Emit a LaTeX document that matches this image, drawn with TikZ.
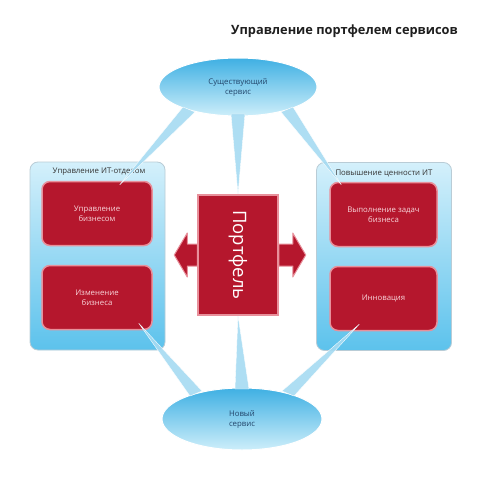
\documentclass[tikz,border=0pt]{standalone}
\usepackage{fontspec}
\setmainfont{Open Sans}
\usetikzlibrary{shapes.geometric,calc}
\definecolor{pnlTop}{HTML}{D4F0FB}
\definecolor{pnlBot}{HTML}{5CC2EC}
\definecolor{pnlEdge}{HTML}{B9CCD6}
\definecolor{redFill}{HTML}{B5172D}
\definecolor{redEdge}{HTML}{E8909B}
\definecolor{ellTop}{HTML}{3FB0E3}
\definecolor{ellBot}{HTML}{CDEEFA}
\definecolor{beamCol}{HTML}{A6DBF2}
\definecolor{ellText}{HTML}{23466B}
\definecolor{boxText}{HTML}{F8D6DB}
\tikzset{
  panel/.style={draw=pnlEdge, line width=0.8pt, rounded corners=8pt, top color=pnlTop, bottom color=pnlBot, minimum width=135pt, minimum height=188pt, inner sep=0pt},
  redbox/.style={draw=redEdge, line width=1.5pt, rounded corners=8pt, fill=redFill, minimum width=110pt, minimum height=64pt, align=center, text=boxText, font=\fontsize{7.8}{10}\selectfont, inner sep=0pt},
  ellnode/.style={ellipse, draw=white, line width=1pt, top color=ellTop, bottom color=ellBot, minimum width=158pt, minimum height=58pt, align=center, text=ellText, font=\fontsize{7.8}{10}\selectfont, inner sep=0pt},
  pnltitle/.style={text=black!80, font=\fontsize{7.8}{10}\selectfont, inner sep=0pt},
  beam/.style={fill=beamCol, draw=white, line width=0.4pt, opacity=0.9},
  arrowshape/.style={fill=redFill, draw=redEdge, line width=1pt, line join=round},
  portbox/.style={draw=redEdge, line width=1.5pt, fill=redFill, minimum width=80pt, minimum height=120pt, inner sep=0pt},
  porttext/.style={rotate=-90, text=white, font=\fontsize{18.5}{22}\selectfont, inner sep=0pt},
}
\begin{document}
\begin{tikzpicture}[x=1pt,y=-1pt]
\useasboundingbox[fill=white] (0,0) rectangle (480,484);
% title
\node[anchor=east, font=\fontsize{12.8}{15}\selectfont\bfseries, text=black!88, inner sep=0pt] (title) at (458,31) {Управление портфелем сервисов};
% panels
\node[panel] (lp) at (97.5,256) {};
\node[panel] (rp) at (384,256.5) {};
\node[pnltitle] (lpt) at (99,172) {Управление ИТ-отделом};
\node[pnltitle] (rpt) at (384,173) {Повышение ценности ИТ};
% ellipses
\node[ellnode] (top) at (238,87) {Существующий\\сервис};
\node[ellnode, minimum width=160pt, minimum height=62pt] (bot) at (242,419) {Новый\\сервис};
% central box
\node[portbox] (port) at (238,255) {};
% beam end points
\coordinate (tl1) at ($(top.center)+(-55,20)$);
\coordinate (tl2) at ($(top.center)+(-43,25)$);
\coordinate (tm1) at ($(top.center)+(-7,27)$);
\coordinate (tm2) at ($(top.center)+(7,27)$);
\coordinate (tr1) at ($(top.center)+(43,25)$);
\coordinate (tr2) at ($(top.center)+(55,20)$);
\coordinate (bl1) at ($(bot.center)+(-52,-23)$);
\coordinate (bl2) at ($(bot.center)+(-40,-28)$);
\coordinate (bm1) at ($(bot.center)+(-7,-30)$);
\coordinate (bm2) at ($(bot.center)+(7,-30)$);
\coordinate (br1) at ($(bot.center)+(40,-28)$);
\coordinate (br2) at ($(bot.center)+(52,-23)$);
% red boxes
\node[redbox] (lb1) at (97,213.5) {Управление\\бизнесом};
\node[redbox] (lb2) at (97,297.5) {Изменение\\бизнеса};
\node[redbox, minimum width=107pt] (rb1) at (383.5,214.5) {Выполнение задач\\бизнеса};
\node[redbox, minimum width=107pt] (rb2) at (383.5,298.5) {Инновация};
% beams
\fill[beam] (tl1) -- ($(lb1.north east)+(-33,4)$) -- (tl2) -- cycle;
\fill[beam] (tr1) -- ($(rb1.north west)+(12,3)$) -- (tr2) -- cycle;
\fill[beam] (tm1) -- (port.north) -- (tm2) -- cycle;
\fill[beam] (bl1) -- ($(lb2.south east)+(-14,-7)$) -- (bl2) -- cycle;
\fill[beam] (br1) -- ($(rb2.south west)+(30,-7)$) -- (br2) -- cycle;
\fill[beam] (bm1) -- (port.south) -- (bm2) -- cycle;
% arrows
\draw[arrowshape] ($(port.west)+(-23,0)$) -- ++(13,-22) -- ++(0,11) -- ++(10,0) -- ++(0,22) -- ++(-10,0) -- ++(0,11) -- cycle;
\draw[arrowshape] ($(port.east)+(27,0)$) -- ++(-13,-22) -- ++(0,11) -- ++(-14,0) -- ++(0,22) -- ++(14,0) -- ++(0,11) -- cycle;
% central box on top of the arrows
\node[portbox] (port2) at (port.center) {};
\node[porttext] (portt) at (port.center) {Портфель};
\end{tikzpicture}
\end{document}
